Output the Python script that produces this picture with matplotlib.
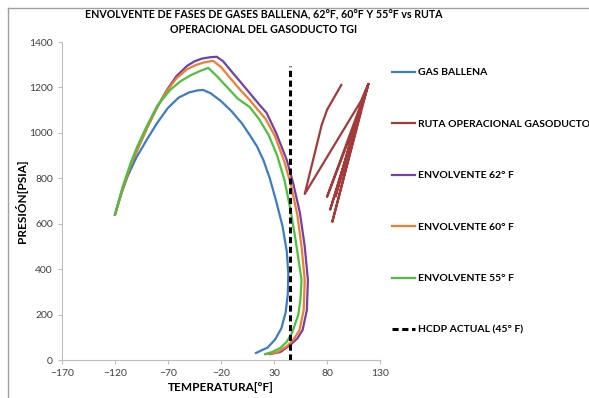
import matplotlib
matplotlib.use("Agg")
import matplotlib.pyplot as plt
from matplotlib.lines import Line2D

plt.rcParams['font.family'] = ['Lato', 'DejaVu Sans']

# gas ballena envelope
ballena_t = [-120, -115, -108, -100, -90, -80, -70, -60, -50, -42, -37, -30, -20, -10, 0, 7, 14, 20, 26, 32, 38, 42, 43.5, 43, 41, 37, 31, 24, 13]
ballena_p = [640, 720, 810, 890, 970, 1045, 1110, 1155, 1178, 1187, 1189, 1175, 1140, 1095, 1040, 991, 940, 880, 800, 700, 590, 480, 380, 290, 210, 140, 90, 55, 31]

# envolvente 62 F
env62_t = [-120, -113, -105, -99, -90, -80, -71, -62, -52, -45, -38, -30, -24, -18, -10, 0, 8, 16, 23, 32, 42, 48, 54.5, 59, 62, 61, 57, 52, 45, 36, 26]
env62_p = [640, 750, 860, 925, 1020, 1115, 1189, 1250, 1295, 1315, 1327, 1333, 1335, 1315, 1270, 1215, 1170, 1125, 1088, 1000, 881, 780, 647, 500, 352, 220, 132, 95, 65, 35, 26]

# envolvente 60 F
env60_t = [-120, -113, -105, -99, -90, -80, -71, -62, -52, -44, -36, -27.5, -20, -12, -2, 7, 15, 22, 31, 40, 46, 52, 56, 59, 58, 54, 48, 42, 33, 23]
env60_p = [640, 750, 860, 925, 1020, 1115, 1185, 1240, 1280, 1298, 1310, 1317, 1290, 1245, 1190, 1145, 1100, 1062, 985, 870, 770, 640, 500, 352, 220, 130, 88, 60, 34, 26]

# envolvente 55 F
env55_t = [-120, -113, -105, -99, -90, -80, -68, -58, -48, -40, -32, -24, -14, -4, 7, 16, 25, 33, 40, 45, 50, 56, 55, 53, 47, 42, 36, 28, 21.5]
env55_p = [640, 760, 870, 940, 1030, 1120, 1189, 1228, 1255, 1272, 1286, 1250, 1200, 1150, 1114, 1060, 990, 900, 790, 674, 540, 352, 270, 200, 119, 80, 53, 35, 26]

# ruta operacional gasoducto
ruta_t = [93.5, 80, 75, 59, 112, 119, 80, 113, 119, 83, 112, 85, 119, 88, 108, 90, 119]
ruta_p = [1211, 1101, 1035, 731, 1140, 1215, 718, 1120, 1215, 662, 1100, 608, 1215, 720, 1060, 760, 1215]

# hcdp actual
hcdp_t = [45, 45]
hcdp_p = [0, 1295]

fig = plt.figure(figsize=(5.89, 3.98), dpi=100)
ax = fig.add_axes([62/589, 38/398, 318/589, 318/398])

ax.plot(ballena_t, ballena_p, color='#3D7CC2', lw=1.6, label='GAS BALLENA')
ax.plot(ruta_t, ruta_p, color='#A33B3B', lw=1.6, label='RUTA OPERACIONAL GASODUCTO')
ax.plot(env62_t, env62_p, color='#7340A6', lw=1.6, label='ENVOLVENTE 62° F')
ax.plot(env60_t, env60_p, color='#F07E2E', lw=1.6, label='ENVOLVENTE 60° F')
ax.plot(env55_t, env55_p, color='#4DC03F', lw=1.6, label='ENVOLVENTE 55° F')
ax.plot(hcdp_t, hcdp_p, color='black', lw=2.2, ls=(0, (2, 1.2)), label='HCDP ACTUAL (45° F)')

ax.set_xlim(-170, 130)
ax.set_ylim(0, 1400)
ax.set_xticks(range(-170, 131, 50))
ax.set_yticks(range(0, 1401, 200))
for s in ['top', 'right']:
    ax.spines[s].set_visible(False)
for s in ['left', 'bottom']:
    ax.spines[s].set_color('#BFBFBF')
    ax.spines[s].set_linewidth(0.8)
ax.tick_params(colors='#BFBFBF', labelcolor='#404040', labelsize=7.5, length=3, width=0.8)

ax.set_xlabel('TEMPERATURA[°F]', fontsize=8.5, fontweight='bold', labelpad=3)
ax.set_ylabel('PRESIÓN[PSIA]', fontsize=8.5, fontweight='bold', labelpad=1)

fig.text(264/589, 1 - 22/398, 'ENVOLVENTE DE FASES DE GASES BALLENA, 62°F, 60°F Y 55°F vs RUTA\nOPERACIONAL DEL GASODUCTO TGI',
         ha='center', va='center', fontsize=7.7, fontweight='bold', linespacing=1.4)

leg = fig.legend(loc='upper left', bbox_to_anchor=(388/589, 1 - 64/398), frameon=False,
                 prop={'size': 7.5, 'weight': 'bold'}, labelspacing=4.05, handlelength=2.2,
                 handletextpad=0.3, borderaxespad=0)

# figure frame (left and top)
fig.add_artist(Line2D([8/589, 8/589], [0, 1 - 8/398], color='#A0A0A0', lw=1, transform=fig.transFigure))
fig.add_artist(Line2D([8/589, 1], [1 - 8/398, 1 - 8/398], color='#A0A0A0', lw=1, transform=fig.transFigure))

fig.savefig('out.png', dpi=100)
